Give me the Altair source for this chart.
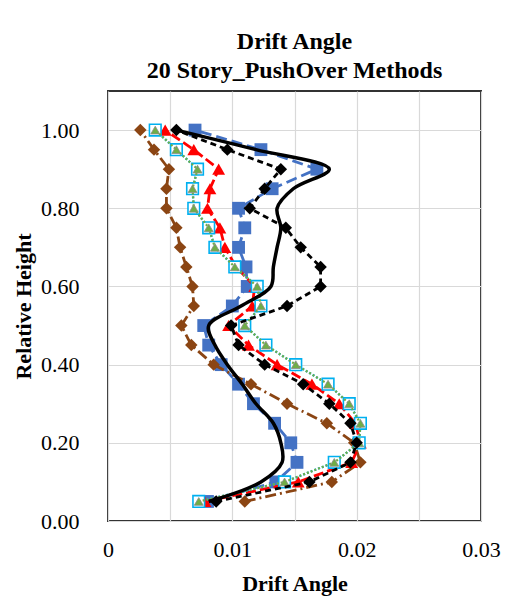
import altair as alt
import pandas as pd

# Relative height levels (story i / 20)
heights = [0.05, 0.10, 0.15, 0.20, 0.25, 0.30, 0.35, 0.40, 0.45, 0.50,
           0.55, 0.60, 0.65, 0.70, 0.75, 0.80, 0.85, 0.90, 0.95, 1.00]

# Drift angles, one value per height level
blue_squares = [0.0080, 0.0135, 0.0152, 0.0147, 0.0134, 0.0117, 0.0105, 0.0091, 0.0081, 0.0077,
                0.0100, 0.0112, 0.0111, 0.0105, 0.0110, 0.0105, 0.0132, 0.0168, 0.0123, 0.0070]
red_triangles = [0.0078, 0.0153, 0.0196, 0.0203, 0.0199, 0.0186, 0.0164, 0.0136, 0.0113, 0.0097,
                 0.0116, 0.0118, 0.0103, 0.0094, 0.0090, 0.0080, 0.0082, 0.0089, 0.0069, 0.0046]
cyan_squares = [0.0073, 0.0142, 0.0182, 0.0202, 0.0203, 0.0194, 0.0177, 0.0151, 0.0127, 0.0110,
                0.0123, 0.0120, 0.0102, 0.0086, 0.0081, 0.0069, 0.0068, 0.0072, 0.0055, 0.0038]
green_triangles = [0.0073, 0.0142, 0.0182, 0.0202, 0.0203, 0.0194, 0.0177, 0.0151, 0.0127, 0.0110,
                   0.0123, 0.0120, 0.0102, 0.0086, 0.0081, 0.0069, 0.0068, 0.0072, 0.0055, 0.0038]
brown_diamonds = [0.0110, 0.0180, 0.0203, 0.0198, 0.0176, 0.0144, 0.0115, 0.0085, 0.0067, 0.0059,
                  0.0069, 0.0068, 0.0063, 0.0058, 0.0055, 0.0047, 0.0047, 0.0049, 0.0037, 0.0026]
black_diamonds = [0.0087, 0.0162, 0.0195, 0.0200, 0.0195, 0.0178, 0.0157, 0.0126, 0.0105, 0.0099,
                  0.0144, 0.0171, 0.0171, 0.0155, 0.0143, 0.0114, 0.0126, 0.0139, 0.0096, 0.0055]
black_solid = [0.0081, 0.0123, 0.0140, 0.0139, 0.0133, 0.0119, 0.0108, 0.0096, 0.0086, 0.0081,
               0.0107, 0.0131, 0.0133, 0.0136, 0.0139, 0.0136, 0.0149, 0.0178, 0.0119, 0.0055]

x_ticks = [0, 0.005, 0.01, 0.015, 0.02, 0.025, 0.03]
y_ticks = [0, 0.2, 0.4, 0.6, 0.8, 1.0]

FONT = "Liberation Serif"

x_enc = alt.X(
    "drift:Q",
    scale=alt.Scale(domain=[0, 0.03], nice=False, zero=False),
    axis=alt.Axis(
        values=x_ticks,
        labelExpr="round(datum.value*1000) % 10 == 0 ? (datum.value == 0 ? '0' : format(datum.value, '.2f')) : ''",
        title="Drift Angle",
        labelPadding=18,
        titlePadding=13,
        labelFlush=False,
        labelOverlap=False,
    ),
)
y_enc = alt.Y(
    "height:Q",
    scale=alt.Scale(domain=[0, 1.1], nice=False, zero=False),
    axis=alt.Axis(
        values=y_ticks,
        format=".2f",
        title="Relative Height",
        labelPadding=29,
        titlePadding=5,
        labelFlush=False,
        labelOverlap=False,
    ),
)


def frame(values):
    return pd.DataFrame({"height": heights, "drift": values})


def series(values, color, dash, width, shape=None, size=0, filled=True, fill=None,
           stroke=None, interpolate="linear"):
    df = frame(values)
    base = alt.Chart(df)
    line_kwargs = dict(color=color, strokeWidth=width, interpolate=interpolate)
    if dash:
        line_kwargs["strokeDash"] = dash
        line_kwargs["strokeCap"] = "butt"
    line = base.mark_line(**line_kwargs).encode(
        x=x_enc, y=y_enc, order=alt.Order("height:Q")
    )
    if shape is None:
        return [line]
    pt_kwargs = dict(shape=shape, size=size, opacity=1)
    if filled:
        pt_kwargs.update(filled=True, fill=fill or color, fillOpacity=1)
        if stroke:
            pt_kwargs.update(stroke=stroke, strokeWidth=0.8)
        else:
            pt_kwargs.update(strokeWidth=0)
    else:
        pt_kwargs.update(filled=False, fill=fill or "white", fillOpacity=1,
                         stroke=color, strokeWidth=1.6)
    pts = base.mark_point(**pt_kwargs).encode(x=x_enc, y=y_enc)
    return [line, pts]


layers = []
layers += series(blue_squares, "#4472C4", [11, 5], 2.8, shape="square", size=165)
layers += series(brown_diamonds, "#8B4513", [11, 4, 2, 4], 2.8, shape="diamond", size=155)
layers += series(red_triangles, "#FF0000", [10, 4], 2.8, shape="triangle-up", size=165)
layers += series(cyan_squares, "#00B0F0", [2, 2], 2.4, shape="square", size=135, filled=False)
layers += series(green_triangles, "#70AD47", [2, 2], 2.2, shape="triangle-up", size=80,
                 stroke="#8C8C8C")
layers += series(black_diamonds, "#000000", [6, 4], 2.8, shape="diamond", size=155)
layers += series(black_solid, "#000000", None, 3.5, interpolate="catmull-rom")

chart = (
    alt.layer(*layers)
    .properties(
        width=373,
        height=430,
        padding={"left": 100, "top": 83, "right": 25, "bottom": 75},
        autosize=alt.AutoSizeParams(type="none"),
        title=alt.TitleParams(
            ["Drift Angle", "20 Story_PushOver Methods"],
            font=FONT,
            fontSize=24,
            fontWeight="bold",
            color="black",
            anchor="middle",
            lineHeight=29,
            offset=8,
        ),
    )
    .configure_view(stroke="#333333", strokeWidth=2)
    .configure_axis(
        grid=True,
        gridColor="#D9D9D9",
        gridWidth=1.2,
        ticks=False,
        domain=False,
        labelFont=FONT,
        labelFontSize=22,
        labelColor="black",
        titleFont=FONT,
        titleFontSize=22,
        titleFontWeight="bold",
        titleColor="black",
    )
)

chart.save("out.html", embed_options={"renderer": "svg", "actions": False})
